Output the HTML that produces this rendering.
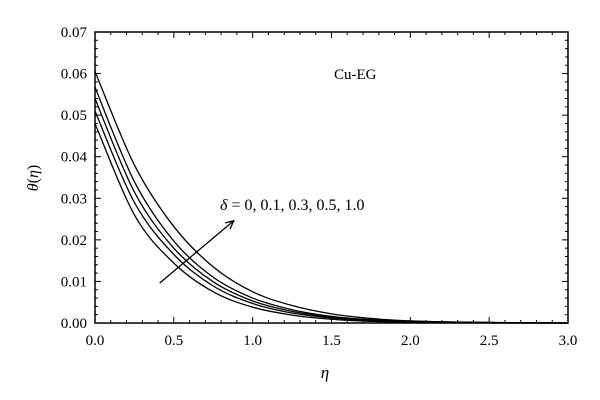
<!DOCTYPE html>
<html><head><meta charset="utf-8"><style>
body{margin:0;background:#fff}
svg{display:block;font-family:"Liberation Serif",serif}
</style></head><body>
<svg id="chart" width="600" height="400">
<g id="plot"></g>
</svg>
<script>
const xs=[0,0.25,0.5,0.75,1.0,1.25,1.5,1.75,2.0,2.5,3.0];
const s0=[0.048,0.026,0.0144,0.0075,0.0038,0.0019,0.0009,0.0004,0.0002,0,0];
const s1=[0.051,0.029,0.0165,0.0089,0.0047,0.0024,0.0012,0.0006,0.0003,0.0001,0];
const s3=[0.054,0.0315,0.018,0.0099,0.0053,0.0028,0.0014,0.0007,0.0003,0.0001,0];
const s5=[0.0567,0.034,0.0197,0.011,0.006,0.0032,0.0016,0.0008,0.0004,0.0001,0];
const s10=[0.0605,0.038,0.0232,0.0135,0.0075,0.0042,0.0022,0.0011,0.0005,0.0001,0];
const xTicks=["0.0","0.5","1.0","1.5","2.0","2.5","3.0"];
const yTicks=["0.00","0.01","0.02","0.03","0.04","0.05","0.06","0.07"];
const L=95,R=568,T=32,B=323;
const X=v=>L+(v/3)*(R-L), Y=v=>B-(v/0.07)*(B-T);
const NS="http://www.w3.org/2000/svg";
const g=document.getElementById('plot');
function mk(t,a,p){const e=document.createElementNS(NS,t);for(const k in a)e.setAttribute(k,a[k]);(p||g).appendChild(e);return e;}
// ticks
for(let i=0;i<=30;i++){const v=i*0.1,x=X(v),len=(i%5==0)?6:3;
 const t1=mk('line',{x1:x,x2:x,y1:B,y2:B-len,stroke:'#000','stroke-width':1});
 
 
 const t2=mk('line',{x1:x,x2:x,y1:T,y2:T+len,stroke:'#000','stroke-width':1});
 
 }
for(let i=0;i<=35;i++){const v=i*0.002,y=Y(v),len=(i%5==0)?6:3;
 const t1=mk('line',{x1:L,x2:L+len,y1:y,y2:y,stroke:'#000','stroke-width':1});
 
 
 const t2=mk('line',{x1:R,x2:R-len,y1:y,y2:y,stroke:'#000','stroke-width':1});
 
 }
xTicks.forEach(s=>{const t=mk('text',{x:X(parseFloat(s)),y:B+22,'text-anchor':'middle','font-size':15});t.textContent=s;
 
 });
yTicks.forEach(s=>{const t=mk('text',{x:L-8,y:Y(parseFloat(s))+5,'text-anchor':'end','font-size':15});t.textContent=s;
 
 });
// frame
const fr=mk('rect',{x:L,y:T,width:R-L,height:B-T,fill:'none',stroke:'#000','stroke-width':1.5});


// curves
function path(ys){const p=xs.map((x,i)=>[X(x),Y(ys[i])]);let d='M'+p[0][0]+','+p[0][1];
 for(let i=0;i<p.length-1;i++){const p0=p[Math.max(0,i-1)],p1=p[i],p2=p[i+1],p3=p[Math.min(p.length-1,i+2)];
  const c1=[p1[0]+(p2[0]-p0[0])/6,p1[1]+(p2[1]-p0[1])/6],c2=[p2[0]-(p3[0]-p1[0])/6,p2[1]-(p3[1]-p1[1])/6];
  d+=` C${c1[0]},${c1[1]} ${c2[0]},${c2[1]} ${p2[0]},${p2[1]}`;}return d;}
[[s0,'curve-delta-0'],[s1,'curve-delta-0.1'],[s3,'curve-delta-0.3'],[s5,'curve-delta-0.5'],[s10,'curve-delta-1.0']].forEach(([s,n])=>{
 const e=mk('path',{d:path(s),fill:'none',stroke:'#000','stroke-width':1.3});
 
 });
// arrow
const ax1=X(0.41),ay1=Y(0.0096),ax2=X(0.88),ay2=Y(0.0246);
const ar=mk('line',{x1:ax1,y1:ay1,x2:ax2,y2:ay2,stroke:'#000','stroke-width':1.3});


const ang=Math.atan2(ay2-ay1,ax2-ax1),h=9;
const hd=mk('polyline',{points:`${ax2-h*Math.cos(ang-0.45)},${ay2-h*Math.sin(ang-0.45)} ${ax2},${ay2} ${ax2-h*Math.cos(ang+0.45)},${ay2-h*Math.sin(ang+0.45)}`,fill:'none',stroke:'#000','stroke-width':1.3});


</script>
<svg width="0" height="0"></svg>
<div style="position:absolute;left:0;top:0;width:600px;height:400px;pointer-events:none">
<svg width="600" height="400" style="font-family:'Liberation Serif',serif">
<text x="220" y="210" font-size="16"><tspan font-style="italic">δ</tspan> = 0, 0.1, 0.3, 0.5, 1.0</text>
<text x="334" y="79" font-size="15">Cu-EG</text>
<text x="325" y="378" font-size="17" font-style="italic" text-anchor="middle">η</text>
<text transform="translate(38,178) rotate(-90)" font-size="16" text-anchor="middle"><tspan font-style="italic">θ</tspan>(<tspan font-style="italic">η</tspan>)</text>
</svg></div>
</body></html>
